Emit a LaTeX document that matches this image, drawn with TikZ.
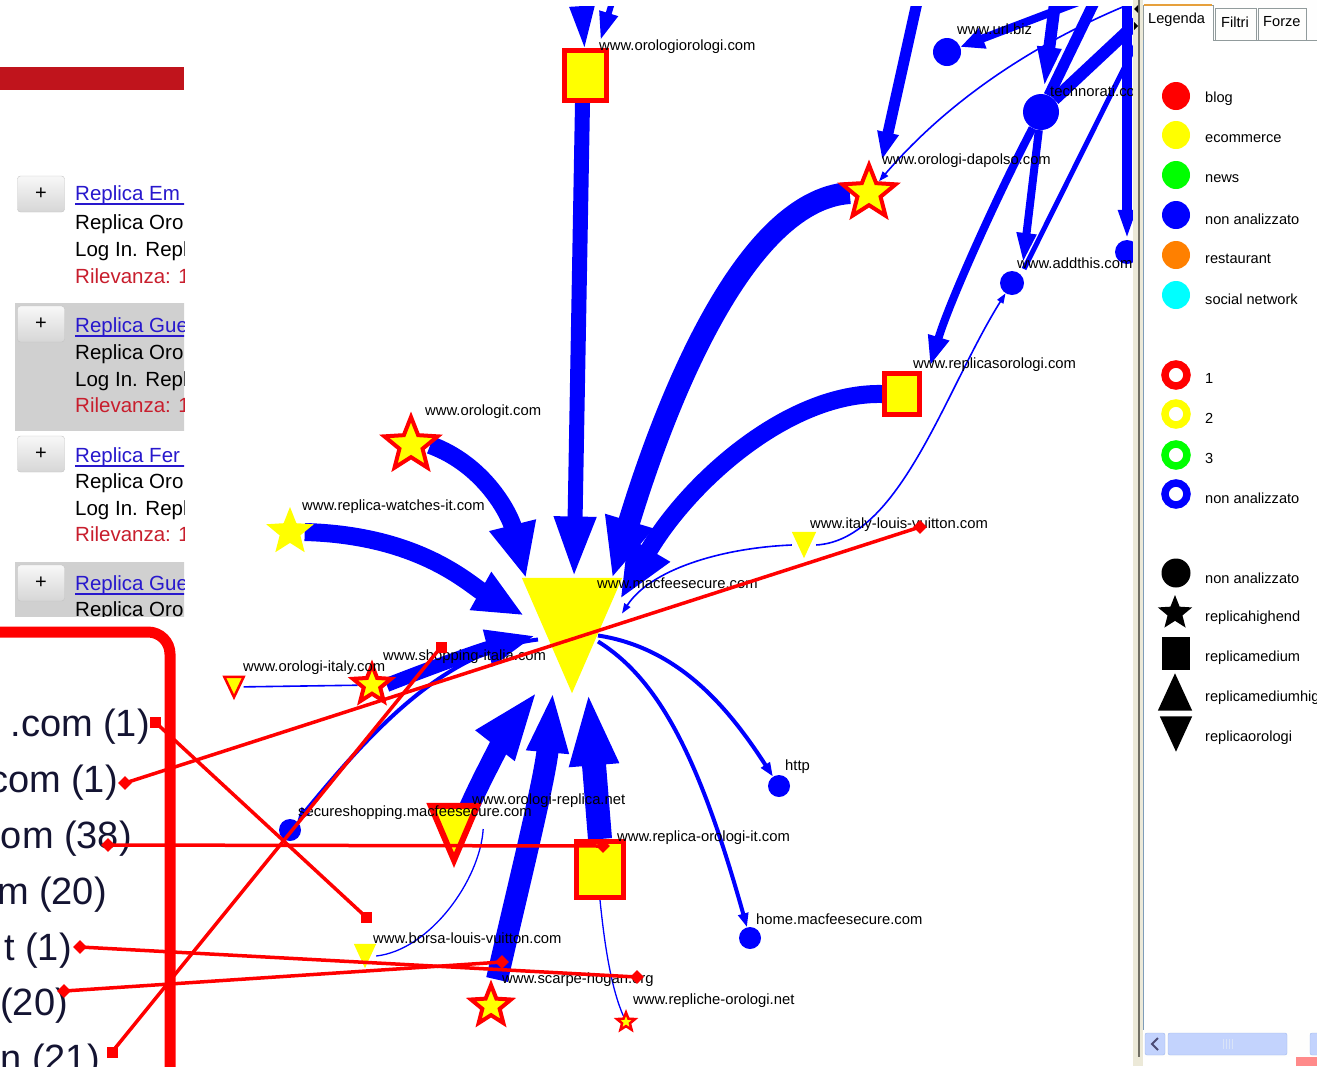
\documentclass[tikz,border=0pt]{standalone}
\usepackage{fontspec}
\setmainfont{Liberation Sans}
\usetikzlibrary{arrows.meta,shapes.geometric}
\pgfdeclarelayer{bg}
\pgfsetlayers{bg,main}
\definecolor{gblue}{RGB}{0,0,255}
\definecolor{gyel}{RGB}{255,255,0}
\definecolor{gred}{RGB}{255,0,0}
\definecolor{barred}{RGB}{192,20,28}
\definecolor{linkblue}{RGB}{40,24,205}
\definecolor{rilred}{RGB}{200,30,45}
\definecolor{selgray}{RGB}{208,208,208}
\definecolor{btnborder}{RGB}{196,196,196}
\definecolor{xpbeige}{RGB}{236,233,216}
\definecolor{xpdark}{RGB}{113,111,100}
\definecolor{xpblue}{RGB}{127,157,185}
\definecolor{tabborder}{RGB}{145,155,156}
\definecolor{taborange}{RGB}{230,160,60}
\definecolor{scrollblue}{RGB}{195,211,253}
\definecolor{scrolledge}{RGB}{160,185,235}
\definecolor{pinkred}{RGB}{255,138,138}
\definecolor{lgorange}{RGB}{255,128,0}
\definecolor{lgcyan}{RGB}{0,255,255}
\definecolor{lggreen}{RGB}{0,255,0}
\definecolor{bigtxt}{RGB}{20,20,50}
\newcommand\grfont{\fontsize{14.8}{17}\selectfont}
\newcommand\lgfont{\fontsize{14.6}{17}\selectfont}
\newcommand\lsfont{\fontsize{20.5}{24}\selectfont}
\newcommand\bigfont{\fontsize{38}{44}\selectfont}
\tikzset{
  lbl/.style={anchor=west, inner sep=0, font=\grfont, text=black},
  gedge/.style={draw=gblue, line width=#1},
  ystar/.style={star, star points=5, star point ratio=2.3, fill=gyel, draw=gred, line width=4, inner sep=0, minimum size=#1},
  pstar/.style={star, star points=5, star point ratio=2.3, fill=gyel, inner sep=0, minimum size=#1},
  ysq/.style={rectangle, fill=gyel, draw=gred, line width=5, inner sep=0},
  bdot/.style={circle, fill=gblue, inner sep=0, minimum size=#1},
  tribox/.style={rectangle, inner sep=0},
  anndia/.style={diamond, fill=gred, inner sep=0, minimum size=14},
  annsq/.style={rectangle, fill=gred, inner sep=0, minimum size=11},
  ann/.style={draw=gred, line width=3.5},
  btn/.style={rectangle, rounded corners=3, draw=btnborder, top color=white!97!black, bottom color=white!84!black, minimum width=47, minimum height=36, inner sep=0, font=\fontsize{20}{20}\selectfont},
  ltxt/.style={anchor=base west, inner sep=0, font=\lsfont},
  bigt/.style={anchor=base east, inner sep=0, font=\bigfont, text=bigtxt},
  lgt/.style={anchor=west, inner sep=0, font=\lgfont},
  lgdot/.style={circle, inner sep=0, minimum size=28, fill=#1},
  lgring/.style={circle, inner sep=0, minimum size=22, draw=#1, line width=7.5},
}
\begin{document}
\begin{tikzpicture}[x=1pt,y=-1pt]
\useasboundingbox (0,0) rectangle (1317,1066);
\begin{pgfonlayer}{bg}
\fill[white] (0,0) rectangle (1317,1066);
\end{pgfonlayer}

% ================= GRAPH =================
\begin{scope}
\clip (184,6) rectangle (1133,1066);
% nodes
\node[tribox, minimum width=100, minimum height=115] (cen) at (572,635.5) {};
\fill[gyel] (cen.north west) -- (cen.north east) -- (cen.south) -- cycle;
\node[tribox, minimum width=46, minimum height=54] (orep) at (454,833) {};
\filldraw[fill=gyel, draw=gred, line width=6] (orep.north west) -- (orep.north east) -- (orep.south) -- cycle;
\node[tribox, minimum width=24, minimum height=26] (ilv) at (804,545) {};
\fill[gyel] (ilv.north west) -- (ilv.north east) -- (ilv.south) -- cycle;
\node[tribox, minimum width=22, minimum height=24] (blv) at (365,956) {};
\fill[gyel] (blv.north west) -- (blv.north east) -- (blv.south) -- cycle;
\node[tribox, minimum width=19, minimum height=20] (oitt) at (234,687) {};
\filldraw[fill=gyel, draw=gred, line width=2.5] (oitt.north west) -- (oitt.north east) -- (oitt.south) -- cycle;

\node[ysq, minimum width=42, minimum height=50] (oo) at (585.5,75.5) {};
\node[ysq, minimum width=35, minimum height=41] (rso) at (902,394) {};
\node[ysq, minimum width=47, minimum height=56] (roi) at (600,869.5) {};

\node[ystar=56] (dap) at (869,193) {};
\node[ystar=56] (olt) at (411,445) {};
\node[pstar=50] (rwi) at (290,532) {};
\node[ystar=40] (oit) at (372,685) {};
\node[ystar=42] (sch) at (491,1006) {};
\node[ystar=19, line width=2.5] (rpo) at (626,1022) {};

\node[bdot=22] (ssh) at (290,830) {};
\node[bdot=22] (http) at (779,786) {};
\node[bdot=22] (home) at (750,938) {};
\node[bdot=28] (url) at (947,52) {};
\node[bdot=36] (tech) at (1041,112) {};
\node[bdot=24] (add) at (1012,283) {};
\node[bdot=24] (n5) at (1127,252) {};

\coordinate (t1) at (922,-20);
\coordinate (t2) at (578,-60);
\coordinate (t3) at (622,-30);
\coordinate (t5) at (1110,-10);
\coordinate (t6) at (1058,-20);
\coordinate (t7) at (1150,10);
\coordinate (t7b) at (1100,-10);
\coordinate (t8) at (1127,-10);
\coordinate (t9) at (1125,6);
\coordinate (t10) at (1138,40);

% labels
\node[lbl] (l1) at (599,47) {www.orologiorologi.com};
\node[lbl] (l2) at (957,29) {www.url.biz};
\node[lbl] (l3) at (1050,91) {technorati.com};
\node[lbl] (l4) at (882,161) {www.orologi-dapolso.com};
\node[lbl] (l5) at (1017,263) {www.addthis.com};
\node[lbl] (l6) at (913,365) {www.replicasorologi.com};
\node[lbl] (l7) at (425,412) {www.orologit.com};
\node[lbl] (l8) at (302,507) {www.replica-watches-it.com};
\node[lbl] (l9) at (810,525) {www.italy-louis-vuitton.com};
\node[lbl] (l10) at (597,583) {www.macfeesecure.com};
\node[lbl] (l11) at (243,668) {www.orologi-italy.com};
\node[lbl] (l12) at (383,657) {www.shopping-italia.com};
\node[lbl] (l13) at (785,767) {http};
\node[lbl] (l14) at (298,813) {secureshopping.macfeesecure.com};
\node[lbl] (l15) at (472,801) {www.orologi-replica.net};
\node[lbl] (l16) at (617,838) {www.replica-orologi-it.com};
\node[lbl] (l17) at (756,919) {home.macfeesecure.com};
\node[lbl] (l18) at (373,938) {www.borsa-louis-vuitton.com};
\node[lbl] (l19) at (502,980) {www.scarpe-hogan.org};
\node[lbl] (l20) at (633,1001) {www.repliche-orologi.net};
\end{scope}

\begin{pgfonlayer}{bg}
\begin{scope}
\clip (184,6) rectangle (1133,1066);
\draw[gedge=15, -{Triangle[length=62pt,width=38pt]}] ([shift={(-3,0)}]oo.south) -- ([shift={(2,-57)}]cen.center);
\draw[gedge=22, -{Triangle[length=60pt,width=46pt]}] (dap.west) .. controls (740,200) and (660,420) .. ([shift={(40,-57)}]cen.center);
\draw[gedge=18, -{Triangle[length=58pt,width=44pt]}] (rso.west) .. controls (790,392) and (690,480) .. ([shift={(48,-36)}]cen.center);
\draw[gedge=18, -{Triangle[length=55pt,width=44pt]}] (olt.east) .. controls (485,465) and (510,515) .. ([shift={(-46,-57)}]cen.center);
\draw[gedge=18, -{Triangle[length=50pt,width=40pt]}] (rwi.east) .. controls (420,535) and (470,585) .. ([shift={(-48,-20)}]cen.center);
\draw[gedge=14, -{Triangle[length=50pt,width=34pt]}] (oit.east) .. controls (430,668) and (480,650) .. ([shift={(-36,0)}]cen.center);
\draw[gedge=4, -{Triangle[length=14pt,width=10pt]}] ([shift={(-34,4)}]cen.center) .. controls (450,650) and (380,720) .. (ssh);
\draw[gedge=20, -{Triangle[length=70pt,width=44pt]}] ([shift={(14,4)}]orep.north) .. controls (485,770) and (515,720) .. ([shift={(-34,55)}]cen.center);
\draw[gedge=22, -{Triangle[length=62pt,width=38pt]}] ([shift={(6,0)}]sch.north) .. controls (515,900) and (545,780) .. ([shift={(-19,55)}]cen.center);
\draw[gedge=24, -{Triangle[length=75pt,width=44pt]}] (roi.north) -- ([shift={(16,55)}]cen.center);
\draw[gedge=4, -{Triangle[length=14pt,width=10pt]}] ([shift={(26,0)}]cen.center) .. controls (680,648) and (730,710) .. (http);
\draw[gedge=4, -{Triangle[length=14pt,width=10pt]}] ([shift={(26,6)}]cen.center) .. controls (660,680) and (700,760) .. (home);
\draw[gedge=1.6, -{Triangle[length=10pt,width=7pt]}] (ilv.west) .. controls (720,548) and (650,570) .. ([shift={(50,-22)}]cen.center);
\draw[gedge=1.6, -{Triangle[length=10pt,width=7pt]}] (ilv.east) .. controls (900,540) and (945,390) .. (add);
\draw[gedge=1.6] (oit) -- (oitt);
\draw[gedge=1.3] (blv.east) .. controls (430,950) and (480,880) .. ([shift={(6,-4)}]orep.east);
\draw[gedge=1.3] (roi.south) .. controls (605,950) and (612,990) .. (rpo);
% top right
\draw[gedge=11, -{Triangle[length=28pt,width=20pt]}] (t1) -- ([shift={(13,-33)}]dap.center);
\draw[gedge=6, -{Triangle[length=42pt,width=24pt]}] (t2) -- ([shift={(-1,0)}]oo.north);
\draw[gedge=6, -{Triangle[length=28pt,width=18pt]}] (t3) -- ([shift={(15,-8)}]oo.north);
\draw[gedge=8, -{Triangle[length=24pt,width=20pt]}] (t5) -- (url);
\draw[gedge=12, -{Triangle[length=47pt,width=20pt]}] (t6) -- (tech);
\draw[gedge=12] (tech) -- (t7);
\draw[gedge=11] (tech) -- (t7b);
\draw[gedge=8, -{Triangle[length=30pt,width=18pt]}] (tech) -- ([shift={(11,-20)}]add.center);
\draw[gedge=8, -{Triangle[length=30pt,width=20pt]}] (tech) .. controls (1000,190) and (950,300) .. ([shift={(28,-28)}]rso.center);
\draw[gedge=10, -{Triangle[length=30pt,width=16pt]}] (t8) -- (n5);
\draw[gedge=1.6, -{Triangle[length=10pt,width=7pt]}] (t9) .. controls (1020,50) and (940,110) .. (dap);
\draw[gedge=5] (t10) -- ([shift={(12,-14)}]add.center);
\end{scope}
\end{pgfonlayer}

% ================= LEFT LIST =================
\begin{scope}
\clip (0,0) rectangle (184,616);
\fill[barred] (0,67) rectangle (184,90);
\fill[selgray] (15,303) rectangle (190,431);
\fill[selgray] (15,562) rectangle (190,620);
\node[btn] (b1) at (41,194) {\raisebox{-3pt}{+}};
\node[btn] (b2) at (41,324) {\raisebox{-3pt}{+}};
\node[btn] (b3) at (41,454) {\raisebox{-3pt}{+}};
\node[btn] (b4) at (41,583) {\raisebox{-3pt}{+}};
\node[ltxt, text=linkblue] (a1) at (75,200) {Replica Em};
\draw[linkblue, line width=1.2] (75,204) -- (190,204);
\node[ltxt] (a2) at (75,229) {Replica Oro};
\node[ltxt] (a3) at (75,256) {Log In. Repl};
\node[ltxt, text=rilred] (a4) at (75,283) {Rilevanza: 1};
\node[ltxt, text=linkblue] (c1) at (75,332) {Replica Gue};
\draw[linkblue, line width=1.2] (75,336) -- (190,336);
\node[ltxt] (c2) at (75,359) {Replica Oro};
\node[ltxt] (c3) at (75,386) {Log In. Repl};
\node[ltxt, text=rilred] (c4) at (75,412) {Rilevanza: 1};
\node[ltxt, text=linkblue] (d1) at (75,462) {Replica Fer};
\draw[linkblue, line width=1.2] (75,466) -- (190,466);
\node[ltxt] (d2) at (75,488) {Replica Oro};
\node[ltxt] (d3) at (75,515) {Log In. Repl};
\node[ltxt, text=rilred] (d4) at (75,541) {Rilevanza: 1};
\node[ltxt, text=linkblue] (e1) at (75,590) {Replica Gue};
\draw[linkblue, line width=1.2] (75,594) -- (190,594);
\node[ltxt] (e2) at (75,616) {Replica Oro};
\end{scope}

% ================= LEFT FRAME =================
\begin{scope}
\clip (0,616) rectangle (184,1066);
\draw[gred, line width=11, rounded corners=22] (-20,632) -- (170,632) -- (170,1090);
\node[bigt] (r1) at (150,736) {.com (1)};
\node[bigt] (r2) at (118,792) {com (1)};
\node[bigt] (r3) at (132,848) {om (38)};
\node[bigt] (r4) at (107,904) {m (20)};
\node[bigt] (r5) at (72,960) {t (1)};
\node[bigt] (r6) at (68,1015) {(20)};
\node[bigt] (r7) at (100,1071) {n (21)};
\end{scope}

% ================= RIGHT PANEL =================
\fill[xpbeige] (1133,0) rectangle (1143,1066);
\draw[xpdark, line width=2] (1139,0) -- (1139,1057);
\fill[black] (1134,9) -- (1138,5) -- (1138,13) -- cycle;
\fill[black] (1138,26) -- (1134,22) -- (1134,30) -- cycle;
\fill[white!97!xpbeige] (1143,0) rectangle (1317,40);
\fill[white] (1143,40) rectangle (1317,1030);
\draw[tabborder, fill=white!96!xpbeige] (1215,40) -- (1215,8) -- (1256,8) -- (1256,40);
\draw[tabborder, fill=white!96!xpbeige] (1258,40) -- (1258,8) -- (1306,8) -- (1306,40);
\draw[tabborder, fill=white] (1143,40) -- (1143,5) -- (1213,5) -- (1213,40);
\draw[taborange, line width=2.5] (1144,5) -- (1212,5);
\draw[tabborder] (1213,40) -- (1317,40);
\draw[xpblue, line width=1.2] (1143.5,40) -- (1143.5,1030);
\node[lgt] (tabL) at (1148,20) {Legenda};
\node[lgt] (tabF) at (1221,22) {Filtri};
\node[lgt] (tabZ) at (1263,22) {Forze};

\node[lgdot=gred] (lg1) at (1176,96) {};
\node[lgdot=gyel] (lg2) at (1176,135) {};
\node[lgdot=lggreen] (lg3) at (1176,175) {};
\node[lgdot=gblue] (lg4) at (1176,215) {};
\node[lgdot=lgorange] (lg5) at (1176,255) {};
\node[lgdot=lgcyan] (lg6) at (1176,295) {};
\node[lgt] (lt1) at (1205,99) {blog};
\node[lgt] (lt2) at (1205,139) {ecommerce};
\node[lgt] (lt3) at (1205,179) {news};
\node[lgt] (lt4) at (1205,219) {non analizzato};
\node[lgt] (lt5) at (1205,259) {restaurant};
\node[lgt] (lt6) at (1205,299) {social network};

\node[lgring=gred] (lr1) at (1176,375) {};
\node[lgring=gyel] (lr2) at (1176,414) {};
\node[lgring=lggreen] (lr3) at (1176,455) {};
\node[lgring=gblue] (lr4) at (1176,494) {};
\node[lgt] (lrt1) at (1205,378) {1};
\node[lgt] (lrt2) at (1205,418) {2};
\node[lgt] (lrt3) at (1205,458) {3};
\node[lgt] (lrt4) at (1205,498) {non analizzato};

\node[circle, fill=black, minimum size=29, inner sep=0] (ls1) at (1176,573) {};
\node[star, star points=5, star point ratio=2.3, fill=black, minimum size=36, inner sep=0] (ls2) at (1175,613) {};
\node[rectangle, fill=black, minimum width=28, minimum height=33, inner sep=0] (ls3) at (1176,653) {};
\node[tribox, minimum width=34, minimum height=37] (ls4) at (1175,692) {};
\fill[black] (ls4.south west) -- (ls4.south east) -- (ls4.north) -- cycle;
\node[tribox, minimum width=32, minimum height=35] (ls5) at (1176,734) {};
\fill[black] (ls5.north west) -- (ls5.north east) -- (ls5.south) -- cycle;
\begin{scope}
\clip (1143,540) rectangle (1317,760);
\node[lgt] (lst1) at (1205,578) {non analizzato};
\node[lgt] (lst2) at (1205,618) {replicahighend};
\node[lgt] (lst3) at (1205,658) {replicamedium};
\node[lgt] (lst4) at (1205,698) {replicamediumhigh};
\node[lgt] (lst5) at (1205,738) {replicaorologi};
\end{scope}

% scrollbar
\fill[white!95!xpbeige] (1144,1030) rectangle (1317,1057);
\draw[scrolledge, fill=scrollblue, rounded corners=2] (1145,1033) rectangle (1165,1055);
\draw[black!60!blue!40!gray, line width=2] (1158,1038) -- (1152,1044) -- (1158,1050);
\draw[scrolledge, fill=scrollblue, rounded corners=2] (1168,1033) rectangle (1287,1055);
\foreach \gx in {1223,1226,1229,1232} \draw[white!60!scrolledge] (\gx,1039) -- (\gx,1049);
\draw[scrolledge, fill=scrollblue, rounded corners=2] (1310,1033) rectangle (1325,1055);
\fill[pinkred] (1296,1057) rectangle (1317,1066);

% ================= ANNOTATIONS =================
\node[annsq] (m1) at (155,722) {};
\node[annsq] (m1b) at (366,917) {};
\node[anndia] (m2) at (125,783) {};
\node[anndia] (m2b) at (920,527) {};
\node[anndia] (m3) at (108,845) {};
\node[anndia] (m3b) at (603,846) {};
\node[anndia] (m4) at (80,947) {};
\node[anndia] (m4b) at (637,977) {};
\node[anndia] (m5) at (64,991) {};
\node[anndia] (m5b) at (502,962) {};
\node[annsq] (m6) at (112,1052) {};
\node[annsq] (m6b) at (441,647) {};
\draw[ann] (m1.center) -- (m1b.center);
\draw[ann] (m2.center) -- (m2b.center);
\draw[ann] (m3.center) -- (m3b.center);
\draw[ann] (m4.center) -- (m4b.center);
\draw[ann] (m5.center) -- (m5b.center);
\draw[ann] (m6.center) -- (m6b.center);
\end{tikzpicture}
\end{document}
